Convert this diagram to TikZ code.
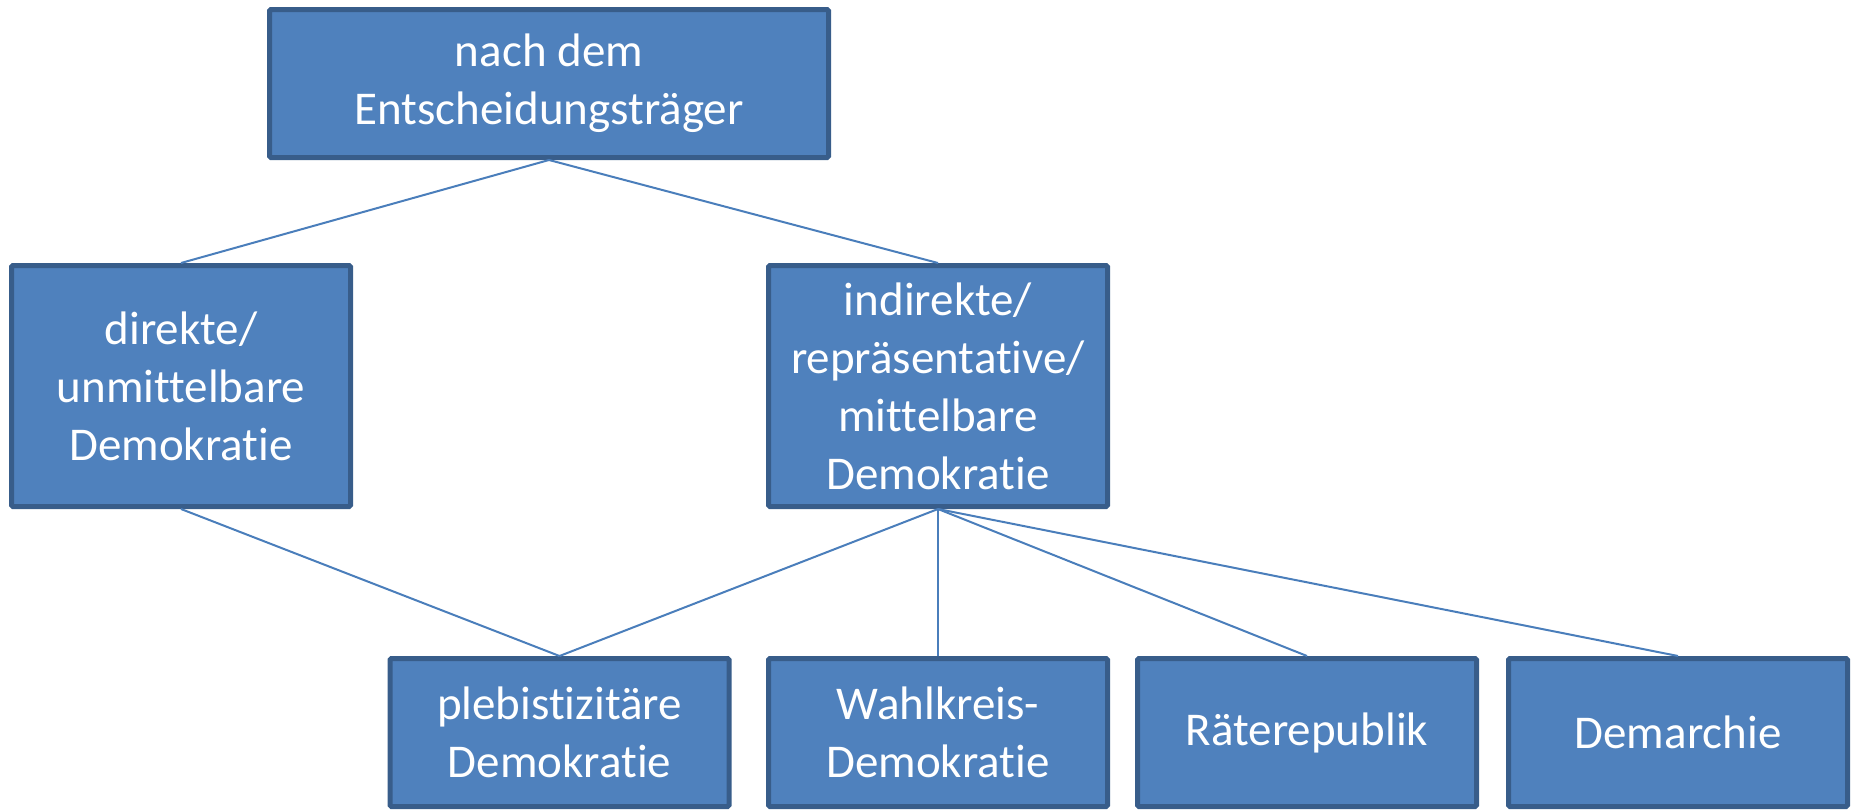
\documentclass[tikz,border=0pt]{standalone}
\usepackage{fontspec}
\setmainfont[Ligatures=NoCommon,RawFeature=-liga]{Carlito}
\usepackage{xcolor}
\usepackage{tikz}

\definecolor{boxfill}{HTML}{4F81BD}
\definecolor{boxline}{HTML}{385D8A}
\definecolor{linkline}{HTML}{4A7EBB}

\begin{document}
\begin{tikzpicture}[x=1pt,y=-1pt,
    box/.style={draw=boxline,fill=boxfill,line width=5pt,rounded corners=1.5pt,
        text=white,align=center,inner sep=0pt,
        font=\fontsize{47}{58}\selectfont},
    wide/.style={box,minimum width=559pt,minimum height=148pt},
    tall/.style={box,minimum width=339pt,minimum height=241pt},
    low/.style={box,minimum width=339pt,minimum height=148pt},
    link/.style={draw=linkline,line width=2pt}]
    \useasboundingbox (0,0) rectangle (1852,809);
    \node[wide] (top) at (549,83.5) {nach dem\\Entscheidungsträger};
    \node[tall] (direkt) at (181,386) {direkte/\\unmittelbare\\Demokratie};
    \node[tall] (indirekt) at (938,386) {indirekte/\\repräsentative/\\mittelbare\\Demokratie};
    \node[low] (pleb) at (559.5,732.5) {plebistizitäre\\Demokratie};
    \node[low] (wahl) at (938,732.5) {Wahlkreis-\\Demokratie};
    \node[low] (raete) at (1307,732.5) {Räterepublik};
    \node[low] (demarchie) at (1678,732.5) {Demarchie};
    \draw[link] (top.south) to (direkt.north);
    \draw[link] (top.south) to (indirekt.north);
    \draw[link] (direkt.south) to (pleb.north);
    \draw[link] (indirekt.south) to (pleb.north);
    \draw[link] (indirekt.south) to (wahl.north);
    \draw[link] (indirekt.south) to (raete.north);
    \draw[link] (indirekt.south) to (demarchie.north);
\end{tikzpicture}
\end{document}
